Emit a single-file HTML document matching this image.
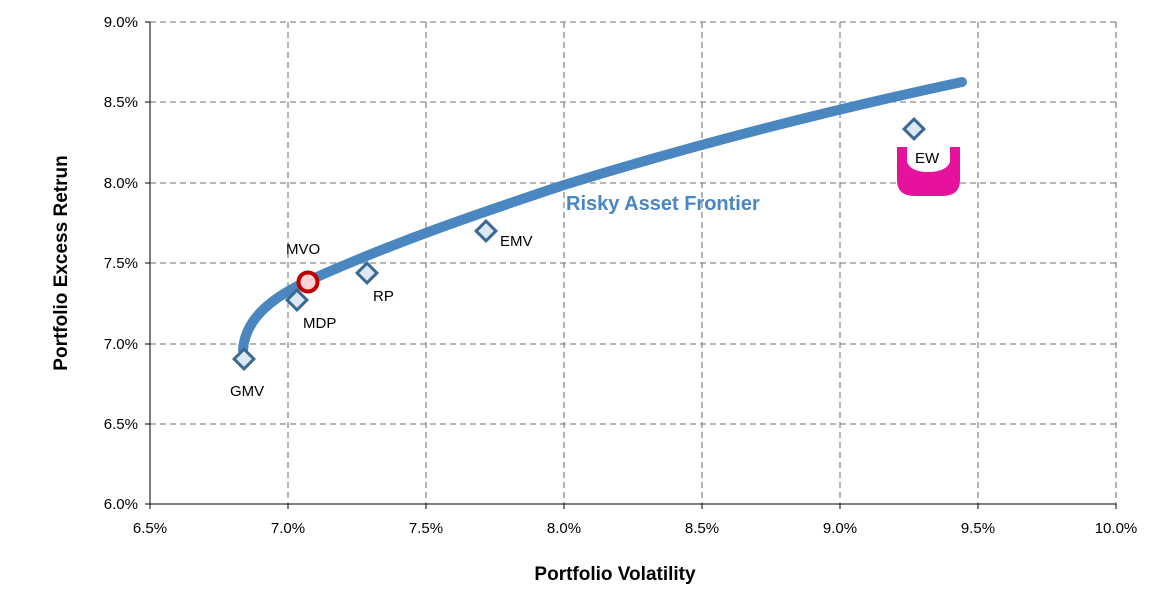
<!DOCTYPE html>
<html><head><style>
body{margin:0;background:#fff;}
text{font-family:"Liberation Sans",sans-serif;}
</style></head><body>
<svg width="1172" height="598" xmlns="http://www.w3.org/2000/svg">
<rect width="1172" height="598" fill="#fff"/>
<g stroke="#8c8c8c" stroke-width="1.3" stroke-dasharray="6,4" fill="none">
<line x1="150" y1="22" x2="1116" y2="22"/>
<line x1="150" y1="102" x2="1116" y2="102"/>
<line x1="150" y1="183" x2="1116" y2="183"/>
<line x1="150" y1="263" x2="1116" y2="263"/>
<line x1="150" y1="344" x2="1116" y2="344"/>
<line x1="150" y1="424" x2="1116" y2="424"/>
<line x1="288" y1="22" x2="288" y2="504"/>
<line x1="426" y1="22" x2="426" y2="504"/>
<line x1="564" y1="22" x2="564" y2="504"/>
<line x1="702" y1="22" x2="702" y2="504"/>
<line x1="840" y1="22" x2="840" y2="504"/>
<line x1="978" y1="22" x2="978" y2="504"/>
<line x1="1116" y1="22" x2="1116" y2="504"/>
</g>
<g stroke="#000" stroke-width="1">
<line x1="150" y1="22" x2="150" y2="504"/>
<line x1="150" y1="504" x2="1116" y2="504"/>
<line x1="145" y1="22" x2="150" y2="22"/><line x1="145" y1="102" x2="150" y2="102"/><line x1="145" y1="183" x2="150" y2="183"/><line x1="145" y1="263" x2="150" y2="263"/><line x1="145" y1="344" x2="150" y2="344"/><line x1="145" y1="424" x2="150" y2="424"/><line x1="145" y1="504" x2="150" y2="504"/>
<line x1="150" y1="504" x2="150" y2="509"/><line x1="288" y1="504" x2="288" y2="509"/><line x1="426" y1="504" x2="426" y2="509"/><line x1="564" y1="504" x2="564" y2="509"/><line x1="702" y1="504" x2="702" y2="509"/><line x1="840" y1="504" x2="840" y2="509"/><line x1="978" y1="504" x2="978" y2="509"/><line x1="1116" y1="504" x2="1116" y2="509"/>
</g>
<g font-size="15" fill="#000" text-anchor="end">
<text x="138" y="27">9.0%</text><text x="138" y="107">8.5%</text><text x="138" y="188">8.0%</text><text x="138" y="268">7.5%</text><text x="138" y="349">7.0%</text><text x="138" y="429">6.5%</text><text x="138" y="509">6.0%</text>
</g>
<g font-size="15" fill="#000" text-anchor="middle">
<text x="150" y="533">6.5%</text><text x="288" y="533">7.0%</text><text x="426" y="533">7.5%</text><text x="564" y="533">8.0%</text><text x="702" y="533">8.5%</text><text x="840" y="533">9.0%</text><text x="978" y="533">9.5%</text><text x="1116" y="533">10.0%</text>
</g>
<text x="615" y="580" font-size="19" font-weight="bold" text-anchor="middle">Portfolio Volatility</text>
<text transform="translate(67,263) rotate(-90)" font-size="19" font-weight="bold" text-anchor="middle">Portfolio Excess Retrun</text>
<path d="M243,350 C245,320 270,298 310,280 C400,240 480,213 564,185 C700,143 840,108 962,82" stroke="#4a86c0" stroke-width="10" fill="none" stroke-linecap="round"/>
<text x="566" y="210" font-size="20" font-weight="bold" fill="#4a86c0">Risky Asset Frontier</text>
<path d="M897,147 L897,180 Q897,196 915,196 L942,196 Q960,196 960,180 L960,147 L950,147 L950,162 Q946,172 928,172 Q911,172 907,162 L907,147 Z" fill="#e6119c"/>
<g fill="#dce8f3" stroke="#3a6a94" stroke-width="3">
<rect x="-7" y="-7" width="14" height="14" transform="translate(244,359) rotate(45)"/>
<rect x="-7" y="-7" width="14" height="14" transform="translate(297,300) rotate(45)"/>
<rect x="-7" y="-7" width="14" height="14" transform="translate(367,273) rotate(45)"/>
<rect x="-7" y="-7" width="14" height="14" transform="translate(486,231) rotate(45)"/>
<rect x="-7" y="-7" width="14" height="14" transform="translate(914,129) rotate(45)"/>
</g>
<circle cx="308" cy="282" r="9.5" fill="#fcd4d8" stroke="#c00000" stroke-width="4"/>
<g font-size="15" fill="#000">
<text x="230" y="396">GMV</text>
<text x="303" y="328">MDP</text>
<text x="373" y="301">RP</text>
<text x="500" y="246">EMV</text>
<text x="286" y="254">MVO</text>
<text x="915" y="163">EW</text>
</g>
</svg>
</body></html>
